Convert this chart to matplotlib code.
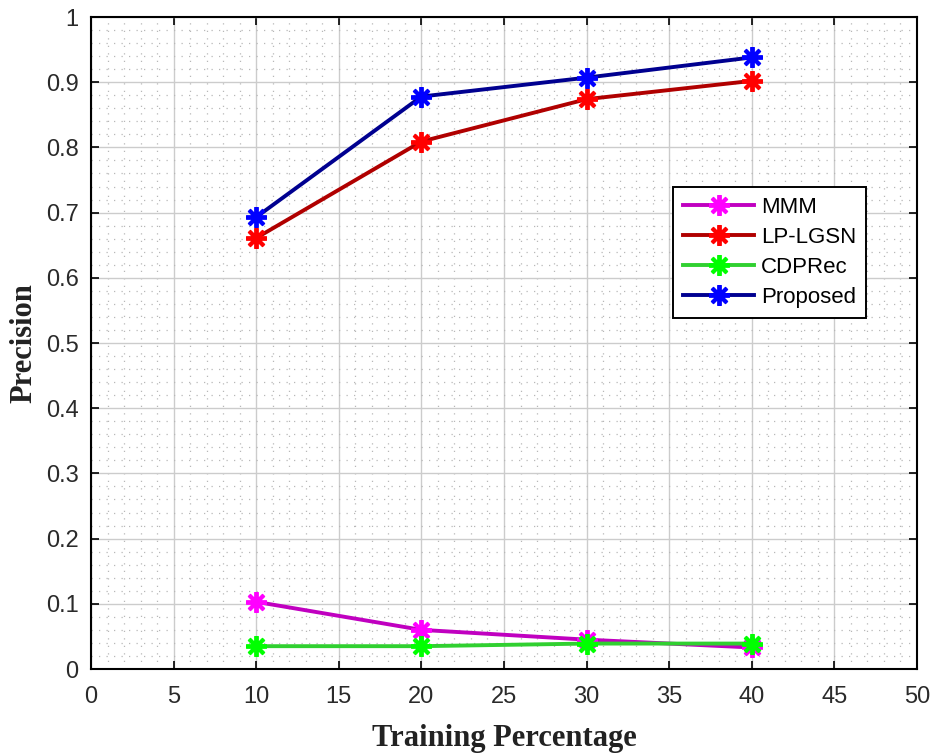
import numpy as np
import matplotlib.pyplot as plt
from matplotlib.ticker import MultipleLocator

# training percentage vs precision
train_pct = [10, 20, 30, 40]
mmm = [0.103, 0.060, 0.045, 0.033]
lp_lgsn = [0.661, 0.809, 0.874, 0.902]
cdprec = [0.035, 0.035, 0.039, 0.039]
proposed = [0.693, 0.878, 0.907, 0.938]

series = [
    ('MMM', mmm, '#c000c0', '#ff00ff'),
    ('LP-LGSN', lp_lgsn, '#b00000', '#ff0000'),
    ('CDPRec', cdprec, '#30d030', '#00ff00'),
    ('Proposed', proposed, '#000090', '#0000ff'),
]

fig = plt.figure(figsize=(9.38, 7.54), dpi=100)
ax = fig.add_axes([91/938, 85/754, 826/938, 652/754])

for name, vals, lc, mc in series:
    ax.plot(train_pct, vals, color=lc, linewidth=2.8, marker=(8, 2, 0),
            markersize=15, markerfacecolor=mc, markeredgecolor=mc,
            markeredgewidth=2.8, label=name)

ax.set_xlim(0, 50)
ax.set_ylim(0, 1)
ax.xaxis.set_major_locator(MultipleLocator(5))
ax.xaxis.set_minor_locator(MultipleLocator(1))
ax.yaxis.set_minor_locator(MultipleLocator(0.02))
ax.set_yticks(np.arange(0, 1.01, 0.1))
ax.set_yticklabels(['0', '0.1', '0.2', '0.3', '0.4', '0.5', '0.6', '0.7', '0.8', '0.9', '1'])

ax.grid(which='major', color='#cccccc', linewidth=1.0)
ax.grid(which='minor', color='#b8b8b8', linestyle=(0, (1, 5)), linewidth=0.9)
ax.set_axisbelow(True)

ax.tick_params(which='major', direction='in', length=6, width=1.2,
               top=True, right=True, labelsize=17, labelcolor='#2a2a2a')
ax.tick_params(axis='x', pad=12)
ax.tick_params(axis='y', pad=9)
ax.tick_params(which='minor', length=0)
for lbl in ax.get_xticklabels() + ax.get_yticklabels():
    lbl.set_fontfamily('Liberation Sans')
for sp in ax.spines.values():
    sp.set_linewidth(1.5)

ax.set_xlabel('Training Percentage', fontfamily='Liberation Serif',
              fontweight='bold', fontsize=22, labelpad=12, color='#222222')
ax.set_ylabel('Precision', fontfamily='Liberation Serif',
              fontweight='bold', fontsize=22, labelpad=5, color='#222222')

leg = ax.legend(loc='upper left', bbox_to_anchor=(0.705, 0.739),
                borderaxespad=0,
                prop={'family': 'Liberation Sans', 'size': 16},
                fancybox=False, framealpha=1, edgecolor='black',
                handlelength=3.2, handletextpad=0.3, borderpad=0.45,
                labelspacing=0.4)
leg.get_frame().set_linewidth(1.4)

fig.savefig('out.png', dpi=100)
